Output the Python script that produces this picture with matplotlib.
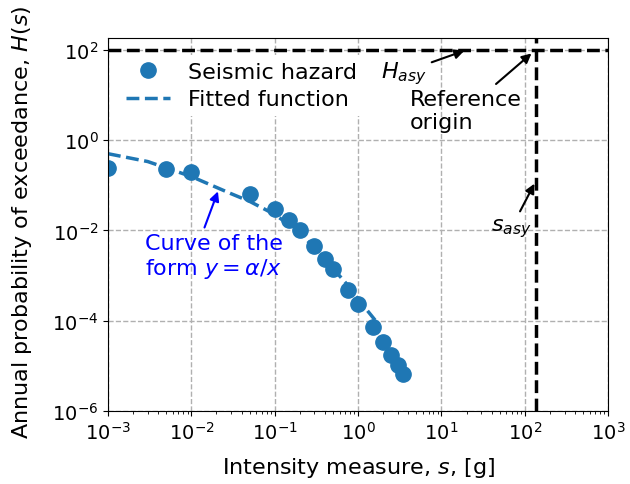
import matplotlib
matplotlib.use("Agg")
import matplotlib.pyplot as plt
import matplotlib.ticker as mticker

# ─────────────────────────────────────────────
# Data
# ─────────────────────────────────────────────

# seismic hazard points: intensity measure s [g] and annual probability H(s)
s_hazard = [0.001, 0.005, 0.01, 0.05, 0.1, 0.15, 0.2, 0.3, 0.4, 0.5,
            0.75, 1.0, 1.5, 2.0, 2.5, 3.0, 3.5]
H_hazard = [0.24, 0.23, 0.198, 0.0625, 0.030, 0.0166, 0.0102, 0.0045, 0.00237,
            0.00143, 4.8e-4, 2.32e-4, 7.3e-5, 3.4e-5, 1.73e-5, 1.04e-5, 6.6e-6]

# fitted function, sampled along the dashed curve
s_fit = [0.001, 0.003, 0.01, 0.03, 0.05, 0.1, 0.2, 0.4, 0.7, 1.0, 1.6]
H_fit = [0.50, 0.335, 0.156, 0.065, 0.044, 0.0226, 0.009, 0.0023, 7.1e-4, 3.0e-4, 1.03e-4]

# asymptotes / reference origin
s_asy = 135.0
H_asy = 100.0

x_ticks = [1e-3, 1e-2, 1e-1, 1e0, 1e1, 1e2, 1e3]
y_ticks = [1e-6, 1e-4, 1e-2, 1e0, 1e2]

FS = 16      # labels, legend, annotations
TICK_FS = 14
BLUE = "#1f77b4"

# ─────────────────────────────────────────────
# Plot
# ─────────────────────────────────────────────

plt.rcParams["font.family"] = ["DejaVu Sans"]
plt.rcParams["mathtext.fontset"] = "dejavusans"

fig = plt.figure(figsize=(6.3, 4.85), dpi=100)
ax = fig.add_axes([0.1714, 0.1505, 0.794, 0.7685])

ax.plot(s_hazard, H_hazard, "o", color=BLUE, ms=11, label="Seismic hazard")
ax.plot(s_fit, H_fit, "--", color=BLUE, lw=2.5, label="Fitted function")

# asymptotes drawn above the legend box
ax.axhline(H_asy, color="k", ls="--", lw=2.5, zorder=6)
ax.axvline(s_asy, color="k", ls="--", lw=2.5, zorder=6)

ax.set_xscale("log")
ax.set_yscale("log")
ax.set_xlim(1e-3, 1e3)
ax.set_ylim(1e-6, 180)
ax.set_xticks(x_ticks)
ax.set_yticks(y_ticks)
ax.yaxis.set_minor_locator(mticker.NullLocator())
ax.tick_params(labelsize=TICK_FS)
ax.grid(True, which="major", ls="--", color="#b0b0b0", lw=1)

ax.set_xlabel("Intensity measure, $s$, [g]", fontsize=FS, labelpad=9)
ax.set_ylabel("Annual probability of exceedance, $H(s)$", fontsize=FS)
ax.yaxis.set_label_coords(-0.148, 0.51)

arrow = dict(arrowstyle="-|>", color="k", lw=1.5, mutation_scale=14)

ax.annotate("$H_{asy}$", xy=(20.2, H_asy), xytext=(3.5, 31.8),
            ha="center", va="center", fontsize=FS, arrowprops=arrow)
ax.annotate("Reference\norigin", xy=(s_asy, H_asy), xytext=(19.5, 4.6),
            ha="center", va="center", multialignment="left", fontsize=FS,
            arrowprops=dict(arrow, shrinkB=4))
ax.annotate("$s_{asy}$", xy=(s_asy, 0.123), xytext=(69, 0.0113),
            ha="center", va="center", fontsize=FS, arrowprops=arrow)
ax.annotate("Curve of the\nform $y = \\alpha/x$", xy=(0.0214, 0.0836),
            xytext=(0.01845, 0.00262), ha="center", va="center",
            multialignment="left", fontsize=FS, color="blue",
            arrowprops=dict(arrowstyle="-|>", color="blue", lw=1.5,
                            mutation_scale=14, relpos=(0.42, 1.0)))

ax.legend(loc="upper left", bbox_to_anchor=(0.0, 0.985), fontsize=FS,
          numpoints=1, frameon=True, facecolor="white", edgecolor="none",
          framealpha=1, borderpad=0.3, labelspacing=0.35)

fig.savefig("out.png", dpi=100)
